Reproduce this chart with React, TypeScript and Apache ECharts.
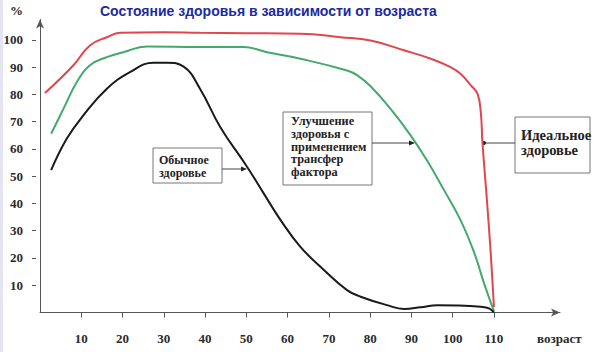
import React, { useEffect, useRef } from "react";
import * as echarts from "echarts";

const TITLE = "Состояние здоровья в зависимости от возраста";
const X_NAME = "возраст";
const Y_NAME = "%";
const X_TICKS = [10, 20, 30, 40, 50, 60, 70, 80, 90, 100, 110];
const Y_TICKS = [10, 20, 30, 40, 50, 60, 70, 80, 90, 100];

const LABEL_NORMAL = "Обычное\nздоровье";
const LABEL_IMPROVED = "Улучшение\nздоровья с\nприменением\nтрансфер\nфактора";
const LABEL_IDEAL = "Идеальное\nздоровье";

// Ideal health (red)
const idealAges = [1.2, 8.1, 12.1, 16.2, 19.4, 30, 38.8, 50, 63.1, 72.8, 80.1, 88.2, 94.7, 99.5, 101.9, 104.4, 106, 106.8, 107.2, 108.2, 109.2, 110];
const idealValues = [80.5, 90.7, 98, 101, 102.6, 102.8, 102.6, 102.5, 102.3, 101, 99.8, 96.2, 93.1, 90, 87.6, 83.3, 80.3, 73.6, 62.6, 43, 22, 2];

// Improved with transfer factor (green)
const improvedAges = [2.7, 5.7, 8.9, 12.1, 16.2, 20.2, 25.9, 38.8, 49.3, 55, 63.1, 74.4, 76.9, 80.1, 84.9, 89.8, 93.9, 97.9, 101.9, 105.2, 107.6, 110];
const improvedValues = [65.6, 74.8, 84.5, 90.7, 93.7, 95.5, 97.6, 97.4, 97.4, 95.5, 93.1, 88.8, 87, 83, 74.8, 65, 55.5, 44.9, 33.9, 22, 10.7, 0.5];

// Usual health (black)
const normalAges = [2.7, 6.5, 10.5, 16.2, 21.8, 27.5, 30.8, 34.8, 38.8, 43.7, 50.2, 54.2, 58.3, 63.1, 68.8, 74.4, 77.7, 84.1, 88.2, 92.2, 96.3, 101.1, 106.8, 108.8, 110];
const normalValues = [52.2, 63.8, 72.3, 82.1, 88.2, 91.6, 91.6, 90.2, 82, 68, 53.4, 43.7, 33.9, 24.1, 15.6, 8.2, 5.8, 2.7, 1.3, 1.9, 2.7, 2.6, 2.1, 1.5, 0];

const zip = (a: number[], b: number[]) => a.map((x, i) => [x, b[i]]);

const SERIF = "Liberation Serif, DejaVu Serif, serif";
const SANS = "Liberation Sans, Arial, sans-serif";

export default function App() {
  const ref = useRef<HTMLDivElement>(null);
  useEffect(() => {
    if (!ref.current) return;
    const chart = echarts.init(ref.current, null, { renderer: "svg" });
    const axisColor = "#555";
    const labelStyle = { fontFamily: SERIF, fontWeight: "bold" as const, fontSize: 13, color: "#2a2a2a" };
    const boxText = (x: number, y: number, text: string, size: number, lh: number) => ({
      type: "text",
      x,
      y,
      style: {
        text,
        fill: "#222",
        fontFamily: SERIF,
        fontWeight: "bold",
        fontSize: size,
        lineHeight: lh,
        verticalAlign: "top",
      },
    });
    const option: any = {
      animation: false,
      backgroundColor: "#ffffff",
      grid: { left: 40, right: 40, top: 19.5, bottom: 39.5 },
      xAxis: {
        type: "value",
        min: 0,
        max: 126,
        axisLine: { show: true, symbol: ["none", "arrow"], symbolSize: [6, 9], lineStyle: { color: axisColor, width: 1 } },
        axisTick: { show: true, customValues: X_TICKS, length: 5, lineStyle: { color: axisColor } },
        axisLabel: { show: true, customValues: X_TICKS, margin: 19, ...labelStyle },
        splitLine: { show: false },
      },
      yAxis: [
        {
          type: "value",
          min: 0,
          max: 107.5,
          position: "left",
          axisLine: { show: true, symbol: ["none", "arrow"], symbolSize: [6, 9], lineStyle: { color: axisColor, width: 1 } },
          axisTick: { show: false },
          axisLabel: { show: true, customValues: Y_TICKS, margin: 17, ...labelStyle },
          splitLine: { show: false },
        },
        {
          type: "value",
          min: 0,
          max: 107.5,
          position: "left",
          offset: 4,
          axisLine: { show: false },
          axisTick: { show: true, customValues: Y_TICKS, length: 4, lineStyle: { color: axisColor } },
          axisLabel: { show: false },
          splitLine: { show: false },
        },
      ],
      series: [
        {
          type: "line",
          name: "ideal",
          data: zip(idealAges, idealValues),
          symbol: "none",
          smooth: 0.45,
          lineStyle: { color: "#e0464c", width: 2 },
        },
        {
          type: "line",
          name: "improved",
          data: zip(improvedAges, improvedValues),
          symbol: "none",
          smooth: 0.45,
          lineStyle: { color: "#45a86c", width: 2 },
        },
        {
          type: "line",
          name: "normal",
          data: zip(normalAges, normalValues),
          symbol: "none",
          smooth: 0.45,
          lineStyle: { color: "#1a1a1a", width: 2 },
        },
      ],
      graphic: [
        { type: "rect", shape: { x: 0, y: 0, width: 3, height: 352 }, style: { fill: "#e4e4f2" } },
        {
          type: "text",
          x: 100,
          y: 4,
          style: { text: TITLE, fill: "#1b2aa0", fontFamily: SANS, fontWeight: "bold", fontSize: 14, verticalAlign: "top" },
        },
        {
          type: "text",
          x: 10,
          y: 4,
          style: { text: Y_NAME, fill: "#2a2a2a", fontFamily: SERIF, fontWeight: "bold", fontSize: 13, verticalAlign: "top" },
        },
        {
          type: "text",
          x: 537,
          y: 332,
          style: { text: X_NAME, fill: "#2a2a2a", fontFamily: SERIF, fontWeight: "bold", fontSize: 13, verticalAlign: "top" },
        },
        // Box: usual health
        { type: "rect", shape: { x: 153, y: 148, width: 69, height: 35 }, style: { fill: "#fff", stroke: "#777", lineWidth: 1 } },
        boxText(159, 153, LABEL_NORMAL, 12, 13.5),
        { type: "line", shape: { x1: 222, y1: 169, x2: 242, y2: 169 }, style: { stroke: "#444", lineWidth: 1 } },
        { type: "polygon", shape: { points: [[247, 169], [241, 166.5], [241, 171.5]] }, style: { fill: "#222" } },
        // Box: improved
        { type: "rect", shape: { x: 283, y: 112, width: 89, height: 73 }, style: { fill: "#fff", stroke: "#777", lineWidth: 1 } },
        boxText(291, 114.5, LABEL_IMPROVED, 12.3, 12.8),
        { type: "line", shape: { x1: 372, y1: 143, x2: 410, y2: 143 }, style: { stroke: "#444", lineWidth: 1 } },
        { type: "polygon", shape: { points: [[415, 143], [409, 140.5], [409, 145.5]] }, style: { fill: "#222" } },
        // Box: ideal
        { type: "rect", shape: { x: 515, y: 117, width: 75, height: 56 }, style: { fill: "#fff", stroke: "#777", lineWidth: 1 } },
        boxText(521, 127, LABEL_IDEAL, 14.5, 15.5),
        { type: "line", shape: { x1: 515, y1: 143, x2: 484, y2: 143 }, style: { stroke: "#444", lineWidth: 1 } },
        { type: "circle", shape: { cx: 484, cy: 143, r: 2 }, style: { fill: "#222" } },
      ],
    };
    chart.setOption(option);
    return () => chart.dispose();
  }, []);
  return <div ref={ref} style={{ position: "fixed", left: 0, top: 0, width: 600, height: 352 }} />;
}
